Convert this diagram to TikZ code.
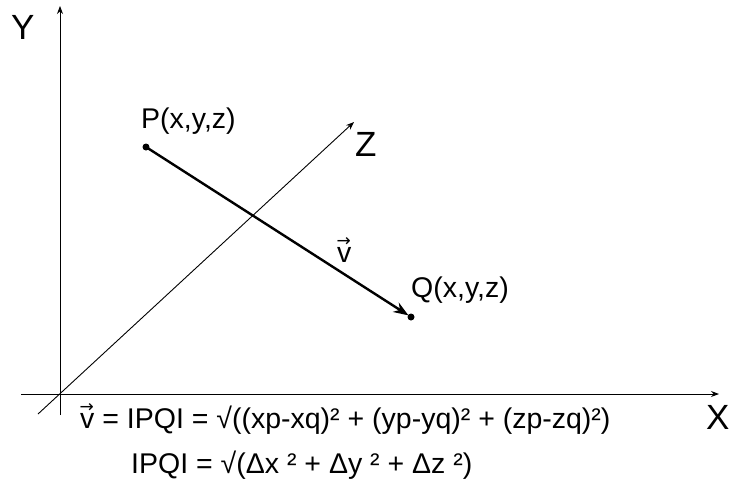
\documentclass[tikz,border=0pt]{standalone}
\usepackage{fontspec}
\setmainfont{Liberation Sans}
\newfontfamily\symf{DejaVu Sans}
\usetikzlibrary{arrows.meta}
\newcommand{\vecv}{\leavevmode\makebox[0pt][l]{\hspace*{-0.5pt}\raisebox{15.5pt}{\symf\fontsize{17}{17}\selectfont →}}v}
\tikzset{
  axis/.style={line width=0.9pt,-{Stealth[length=8pt,width=6pt]}},
  vecline/.style={line width=2.4pt,-{Stealth[length=15pt,width=11pt]},shorten >=3pt},
  dot/.style={circle,fill=black,inner sep=0pt,minimum size=7pt},
  lbl/.style={inner sep=0pt,anchor=base west,font=\fontsize{28.5}{28.5}\selectfont},
  big/.style={inner sep=0pt,anchor=base west,font=\fontsize{35}{35}\selectfont}
}
\begin{document}
\begin{tikzpicture}[x=1pt,y=-1pt]
\useasboundingbox (0,0) rectangle (731,480);
% axes
\coordinate (yb) at (60,415);
\coordinate (yt) at (60,6);
\coordinate (xl) at (21,394);
\coordinate (xr) at (719,394);
\coordinate (zb) at (38,414);
\coordinate (zt) at (354,122);
\draw[axis] (yb) -- (yt);
\draw[axis] (xl) -- (xr);
\draw[axis] (zb) -- (zt);
% points
\node[dot] (P) at (146,147) {};
\node[dot] (Q) at (411,317) {};
\draw[vecline] (P.center) -- (Q.center);
% labels
\node[big] (Ylab) at (11,39) {Y};
\node[big] (Zlab) at (355,156) {Z};
\node[big] (Xlab) at (706,429) {X};
\node[lbl] (Plab) at (141,128) {P(x,y,z)};
\node[lbl] (Qlab) at (411,297) {Q(x,y,z)};
\node[lbl] (vlab) at (337,262) {\vecv};
\node[lbl] (f1) at (80,428) {\vecv{} = IPQI = √((xp-xq)² + (yp-yq)² + (zp-zq)²)};
\node[lbl] (f2) at (131,473) {IPQI = √(Δx ² + Δy ² + Δz ²)};
\end{tikzpicture}
\end{document}
